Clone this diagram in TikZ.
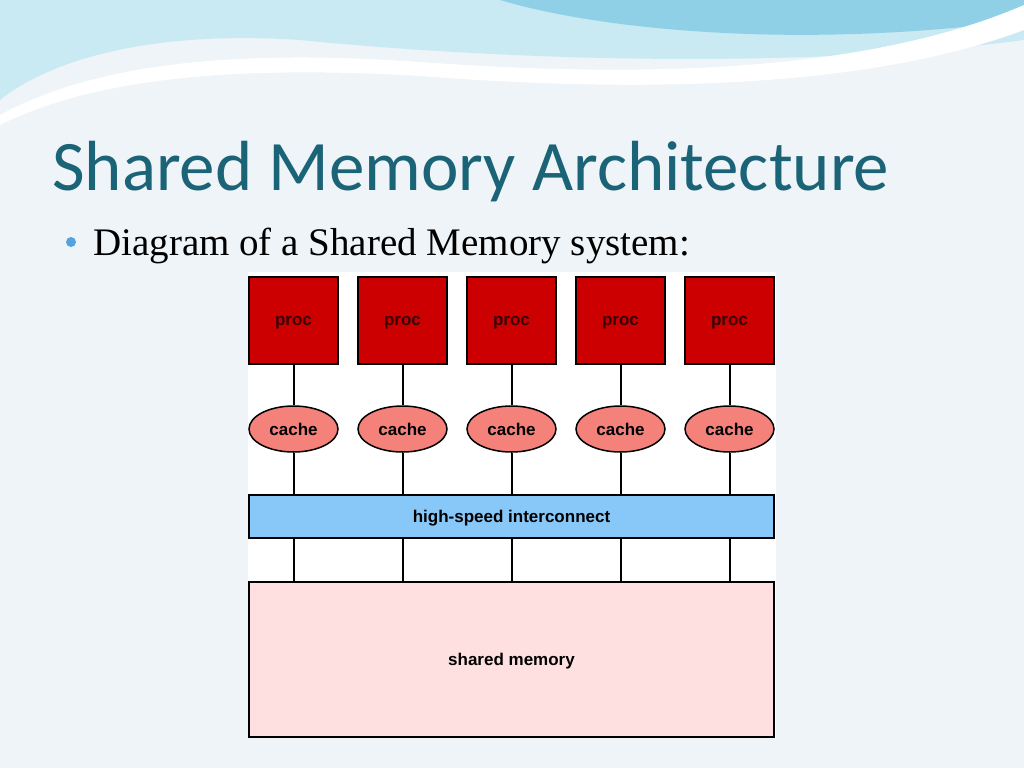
\documentclass[tikz,border=0pt]{standalone}
\usepackage{fontspec}
\setmainfont{Liberation Serif}
\newfontfamily\titlef{Carlito}
\newfontfamily\diaf{Liberation Sans}
\definecolor{titlec}{HTML}{1B6377}
\definecolor{procc}{HTML}{CC0000}
\definecolor{proct}{HTML}{3A0000}
\definecolor{cachec}{HTML}{F5827A}
\definecolor{busc}{HTML}{88C8F8}
\definecolor{memc}{HTML}{FFE0E0}
\definecolor{bgc}{HTML}{EEF4F7}
\definecolor{wave1}{HTML}{8FD0E6}
\definecolor{wave2}{HTML}{C9EAF2}
\begin{document}
\begin{tikzpicture}[x=1pt,y=-1pt,
  lbl/.style={font=\diaf\bfseries\fontsize{17}{19}\selectfont,text depth=0pt,yshift=-2pt},
  proc/.style={lbl,draw=black,line width=1.5pt,fill=procc,minimum width=89pt,minimum height=87pt,inner sep=0pt,text=proct},
  cache/.style={lbl,ellipse,draw=black,line width=1.5pt,fill=cachec,minimum width=89pt,minimum height=46pt,inner sep=0pt},
  wide/.style={lbl,draw=black,line width=1.5pt,minimum width=525pt,inner sep=0pt},
  link/.style={draw=black,line width=2pt}]
\usetikzlibrary{shapes.geometric}
\useasboundingbox (0,0) rectangle (1024,768);
\fill[bgc] (0,0) rectangle (1024,768);
% top waves
\fill[wave2] (0,0) -- (1024,0) -- (1024,40) .. controls (800,70) and (500,60) .. (300,40) .. controls (150,30) and (50,60) .. (0,100) -- cycle;
\fill[wave1] (0,0) -- (500,0) .. controls (600,30) and (800,50) .. (1024,20) -- (1024,0) -- cycle;
\fill[white] (0,115) .. controls (100,60) and (250,50) .. (420,62) .. controls (600,75) and (850,80) .. (1024,5) -- (1024,30) .. controls (850,95) and (600,90) .. (420,76) .. controls (250,66) and (100,75) .. (0,125) -- cycle;
\fill[white] (248,272) rectangle (776,738);
% title
\node[anchor=base west,inner sep=0pt,text=titlec,font=\titlef\fontsize{71}{75}\selectfont] (title) at (52,190) {Shared Memory Architecture};
\fill[cyan!70!blue!70] (71,242) circle (5pt);
\node[anchor=base west,inner sep=0pt,font=\fontsize{39}{43}\selectfont] (sub) at (93,255) {Diagram of a Shared Memory system:};
% diagram
\node[wide,fill=busc,minimum height=43pt] (bus) at (511.5,514.5) {high-speed interconnect};
\node[wide,fill=memc,minimum height=155pt] (mem) at (511.5,657.5) {shared memory};
\foreach \i/\x in {1/293.5,2/402.5,3/511.5,4/620.5,5/729.5}{
  \node[proc] (p\i) at (\x,318.5) {proc};
  \node[cache] (c\i) at (\x,427) {cache};
  \draw[link] (p\i.south) -- (c\i.north);
  \draw[link] (c\i.south) -- (c\i.south |- bus.north);
  \draw[link] (c\i.south |- bus.south) -- (c\i.south |- mem.north);
}
\end{tikzpicture}
\end{document}
